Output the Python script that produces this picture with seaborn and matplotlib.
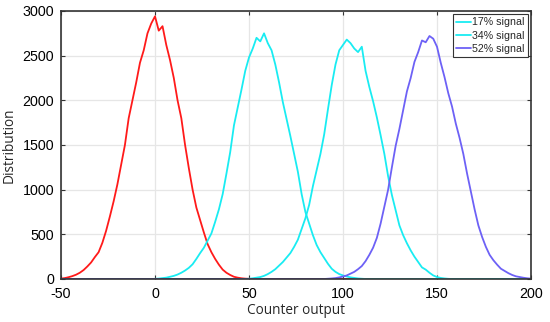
import numpy as np
import pandas as pd
import matplotlib
matplotlib.use("Agg")
import matplotlib.pyplot as plt
import seaborn as sns

# ---- data (2-unit bins) ----
x_full = np.arange(-50, 201, 2)

ref_x0 = -50
ref_vals = [5, 10, 20, 32, 48, 70, 100, 140, 185, 245, 300, 405, 540, 700, 870,
            1060, 1280, 1500, 1800, 2000, 2200, 2420, 2560, 2750, 2860, 2940,
            2780, 2830, 2620, 2450, 2250, 2000, 1800, 1500, 1240, 1000, 800,
            660, 520, 390, 300, 225, 160, 105, 70, 45, 25, 15, 8, 4, 2]

s17_x0 = 0
s17_vals = [2, 5, 10, 15, 25, 35, 50, 70, 95, 125, 165, 225, 290, 350, 430, 510,
            640, 780, 950, 1180, 1420, 1720, 1920, 2120, 2330, 2480, 2580, 2700,
            2660, 2750, 2640, 2560, 2400, 2200, 1980, 1790, 1600, 1400, 1200,
            950, 750, 620, 490, 380, 300, 235, 170, 115, 80, 55, 40, 28, 18, 12,
            6, 3]

s34_x0 = 50
s34_vals = [3, 8, 15, 22, 35, 55, 80, 110, 150, 190, 240, 290, 360, 440, 560,
            680, 830, 1040, 1220, 1400, 1620, 1900, 2170, 2400, 2560, 2620, 2680,
            2640, 2580, 2540, 2600, 2330, 2150, 1990, 1810, 1610, 1400, 1150, 940,
            770, 600, 490, 400, 320, 250, 190, 130, 105, 70, 40, 22, 12, 6, 2]

s52_x0 = 92
s52_vals = [3, 6, 10, 18, 28, 40, 60, 80, 110, 145, 200, 270, 350, 460, 620, 810,
            1000, 1250, 1490, 1680, 1890, 2100, 2250, 2430, 2540, 2670, 2650,
            2720, 2690, 2600, 2420, 2260, 2080, 1930, 1740, 1580, 1400, 1180, 980,
            780, 600, 470, 360, 270, 210, 160, 115, 90, 65, 45, 30, 22, 14, 8, 4]

labels = ["17% signal", "34% signal", "52% signal"]
colors = ["#19ecf2", "#19ecf2", "#6d61f6"]
ref_color = "#ff1a1a"


def full(x0, vals):
    y = np.zeros_like(x_full, dtype=float)
    i0 = int((x0 - x_full[0]) // 2)
    y[i0:i0 + len(vals)] = vals
    return y


ref_df = pd.DataFrame({"x": x_full, "y": full(ref_x0, ref_vals)})
sig_df = pd.concat([
    pd.DataFrame({"x": x_full, "y": full(x0, v), "series": lab})
    for x0, v, lab in zip([s17_x0, s34_x0, s52_x0],
                          [s17_vals, s34_vals, s52_vals], labels)
], ignore_index=True)

# ---- plot ----
sns.set_theme(style="whitegrid")
plt.rcParams["font.family"] = ["Liberation Sans", "DejaVu Sans"]
plt.rcParams["axes.unicode_minus"] = False

fig = plt.figure(figsize=(5.5, 3.22), dpi=100)
ax = fig.add_axes([61 / 550, 1 - 279 / 322, 470 / 550, 268 / 322])

sns.lineplot(data=ref_df, x="x", y="y", color=ref_color, lw=1.3, ax=ax,
             legend=False)
sns.lineplot(data=sig_df, x="x", y="y", hue="series", hue_order=labels,
             palette=dict(zip(labels, colors)), lw=1.3, ax=ax)

ax.set_xlim(-50, 200)
ax.set_ylim(0, 3000)
ax.set_xticks(np.arange(-50, 201, 50))
ax.set_yticks(np.arange(0, 3001, 500))
ax.grid(True, color="#e6e6e6", lw=0.9)
ax.set_facecolor("white")
for s in ax.spines.values():
    s.set_color("#333333")
    s.set_linewidth(1.2)
    s.set_visible(True)
ax.tick_params(axis="both", direction="in", length=3, width=0.8,
               colors="#333333", labelcolor="black", labelsize=10.3,
               top=True, right=True, bottom=True, left=True)
ax.tick_params(axis="x", pad=6)
ax.tick_params(axis="y", pad=5)

ax.set_xlabel("Counter output", fontsize=9.8, family=["Open Sans", "DejaVu Sans"],
              labelpad=1)
ax.set_ylabel("Distribution", fontsize=9.8, family=["Open Sans", "DejaVu Sans"],
              labelpad=4)

leg = ax.legend(loc="upper right", fontsize=7.7, frameon=True, fancybox=False,
                edgecolor="#333333", framealpha=1, handlelength=1.4,
                handletextpad=0.1, borderpad=0.3, labelspacing=0.3,
                borderaxespad=0.3, title=None)
leg.get_frame().set_linewidth(0.8)

fig.savefig("out.png", dpi=100)
